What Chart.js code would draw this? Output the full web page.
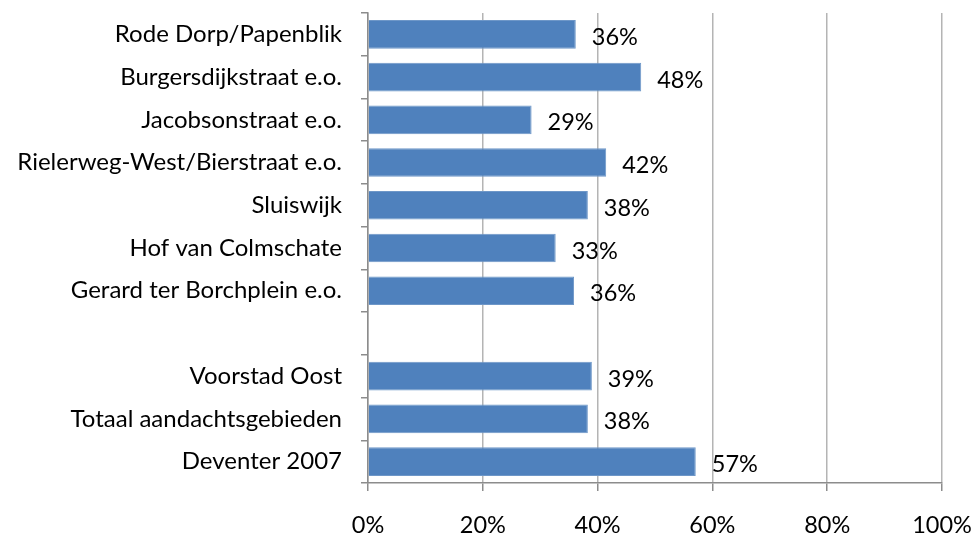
<!DOCTYPE html>
<html>
<head>
<meta charset="utf-8">
<script src="https://cdn.jsdelivr.net/npm/chart.js@4/dist/chart.umd.min.js"></script>
<style>
  html, body { margin: 0; padding: 0; background: #fff; }
  #wrap { width: 975px; height: 541px; }
</style>
</head>
<body>
<div id="wrap"><canvas id="chart" width="975" height="541"></canvas></div>
<script>
// data
const areas = [
  'Rode Dorp/Papenblik',
  'Burgersdijkstraat e.o.',
  'Jacobsonstraat e.o.',
  'Rielerweg-West/Bierstraat e.o.',
  'Sluiswijk',
  'Hof van Colmschate',
  'Gerard ter Borchplein e.o.',
  '',
  'Voorstad Oost',
  'Totaal aandachtsgebieden',
  'Deventer 2007'
];
const shares = [36.2, 47.6, 28.5, 41.5, 38.3, 32.7, 35.9, null, 39.0, 38.3, 57.1];
const xTicks = [0, 20, 40, 60, 80, 100];

const FAMILY = 'Lato, "Open Sans", sans-serif';
const LABEL_FONT = { family: FAMILY, size: 24 };
const NUM_FONT = { family: FAMILY, size: 23.5 };

// percentage labels to the right of each bar
const valueLabels = {
  id: 'valueLabels',
  afterDatasetsDraw(chart) {
    const ctx = chart.ctx;
    const meta = chart.getDatasetMeta(0);
    ctx.save();
    ctx.font = NUM_FONT.size + 'px ' + FAMILY;
    ctx.fillStyle = '#000';
    ctx.textAlign = 'left';
    ctx.textBaseline = 'middle';
    meta.data.forEach((bar, i) => {
      if (shares[i] == null) return;
      ctx.fillText(Math.round(shares[i]) + '%', bar.x + 16, bar.y + 3);
    });
    ctx.restore();
  }
};

new Chart(document.getElementById('chart'), {
  type: 'bar',
  data: {
    labels: areas,
    datasets: [{
      data: shares,
      backgroundColor: '#4F81BD',
      borderColor: '#6E97C8',
      borderWidth: 1,
      barPercentage: 0.67,
      categoryPercentage: 1
    }]
  },
  options: {
    indexAxis: 'y',
    responsive: false,
    animation: false,
    layout: { padding: { top: 13, right: 33, left: 0, bottom: 0 } },
    plugins: {
      legend: { display: false },
      tooltip: { enabled: false }
    },
    scales: {
      x: {
        min: 0,
        max: 100,
        afterBuildTicks: scale => { scale.ticks = xTicks.map(v => ({ value: v })); },
        afterFit: scale => {
          scale.height = 58;
          scale.paddingLeft = 0;
          scale.paddingRight = 0;
        },
        grid: { color: '#b4b4b4', lineWidth: 1.5, tickLength: 8, tickColor: '#8c8c8c' },
        border: { color: '#8c8c8c', width: 1.5 },
        ticks: {
          padding: 20,
          color: '#000',
          font: NUM_FONT,
          maxRotation: 0,
          callback: v => v + '%'
        }
      },
      y: {
        afterFit: scale => {
          scale.width = 368;
          scale.paddingTop = 0;
          scale.paddingBottom = 0;
        },
        grid: { display: true, drawOnChartArea: false, tickLength: 7, color: '#8c8c8c', lineWidth: 1.5 },
        border: { color: '#8c8c8c', width: 1.5 },
        ticks: { padding: 19, color: '#000', font: LABEL_FONT, autoSkip: false }
      }
    }
  },
  plugins: [valueLabels]
});
</script>
</body>
</html>
